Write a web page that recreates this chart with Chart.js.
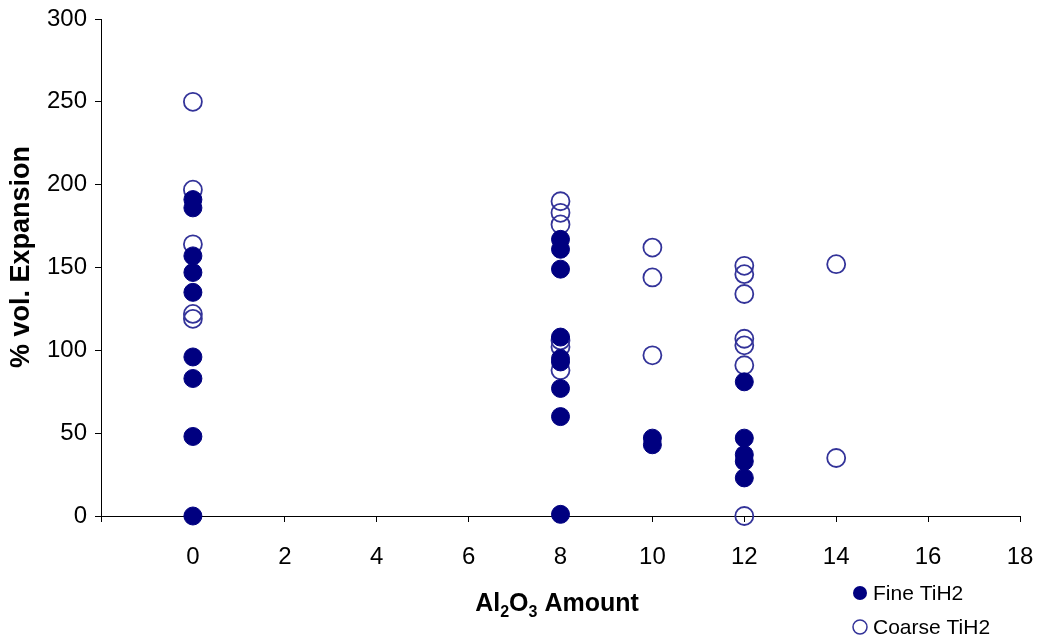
<!DOCTYPE html>
<html>
<head>
<meta charset="utf-8">
<title>% vol. Expansion vs Al2O3 Amount</title>
<script src="https://cdn.jsdelivr.net/npm/chart.js@4.4.1/dist/chart.umd.min.js"></script>
<style>
  html, body { margin: 0; padding: 0; background: #fff; }
  canvas { display: block; }
</style>
</head>
<body>
<canvas id="expansaoChart" width="1043" height="641"></canvas>
<script>
// Fine TiH2
const fineAmount = [0, 0, 0, 0, 0, 0, 0, 0, 0, 8, 8, 8, 8, 8, 8, 8, 8, 8, 10, 10, 12, 12, 12, 12, 12];
const fineExpansion = [191, 186, 157, 147, 135, 96, 83, 48, 0, 167, 161, 149, 108, 95, 93, 77, 60, 1, 47, 43, 81, 47, 37, 33, 23];

// Coarse TiH2
const coarseAmount = [0, 0, 0, 0, 0, 8, 8, 8, 8, 8, 8, 10, 10, 10, 12, 12, 12, 12, 12, 12, 12, 14, 14];
const coarseExpansion = [250, 197, 164, 122, 119, 190, 183, 176, 106, 102, 88, 162, 144, 97, 151, 146, 134, 107, 103, 91, 0, 152, 35];

const amountTicks = [-2, 0, 2, 4, 6, 8, 10, 12, 14, 16, 18];
const expansionTicks = [0, 50, 100, 150, 200, 250, 300];

const fonte = "'Liberation Sans', Arial, sans-serif";
const corFine = "#000080";
const corCoarse = "#333399";

function pontos(xs, ys) {
  return xs.map((x, i) => ({ x: x, y: ys[i] }));
}

// titulos dos eixos (x com subscritos) + legenda desenhada a mao
const extras = {
  id: "extras",
  afterDraw(chart) {
    const ctx = chart.ctx;
    ctx.save();
    ctx.fillStyle = "#000";
    ctx.textBaseline = "alphabetic";

    // Al2O3 Amount
    const partes = [
      { t: "Al", sub: false },
      { t: "2", sub: true },
      { t: "O", sub: false },
      { t: "3", sub: true },
      { t: " Amount", sub: false },
    ];
    const fNormal = "bold 25px " + fonte;
    const fSub = "bold 16px " + fonte;
    let total = 0;
    partes.forEach((p) => {
      ctx.font = p.sub ? fSub : fNormal;
      total += ctx.measureText(p.t).width;
    });
    let x = 557 - total / 2;
    const base = 611;
    partes.forEach((p) => {
      ctx.font = p.sub ? fSub : fNormal;
      ctx.fillText(p.t, x, p.sub ? base + 6 : base);
      x += ctx.measureText(p.t).width;
    });

    // % vol. Expansion (rotacionado)
    ctx.save();
    ctx.translate(29, 257);
    ctx.rotate(-Math.PI / 2);
    ctx.font = "bold 27px " + fonte;
    ctx.textAlign = "center";
    ctx.fillText("% vol. Expansion", 0, 0);
    ctx.restore();

    // legenda
    const itens = [
      { label: "Fine TiH2", y: 593, fill: true },
      { label: "Coarse TiH2", y: 627, fill: false },
    ];
    ctx.font = "21px " + fonte;
    ctx.textBaseline = "middle";
    itens.forEach((it) => {
      ctx.beginPath();
      ctx.arc(860, it.y, 7, 0, Math.PI * 2);
      if (it.fill) {
        ctx.fillStyle = corFine;
        ctx.fill();
      } else {
        ctx.strokeStyle = corCoarse;
        ctx.lineWidth = 1.5;
        ctx.stroke();
      }
      ctx.fillStyle = "#000";
      ctx.fillText(it.label, 873, it.y + 1);
    });
    ctx.restore();
  },
};

new Chart(document.getElementById("expansaoChart"), {
  type: "scatter",
  data: {
    datasets: [
      {
        label: "Fine TiH2",
        data: pontos(fineAmount, fineExpansion),
        pointRadius: 9,
        pointBackgroundColor: corFine,
        pointBorderColor: corFine,
        pointBorderWidth: 1,
        clip: false,
      },
      {
        label: "Coarse TiH2",
        data: pontos(coarseAmount, coarseExpansion),
        pointRadius: 9,
        pointBackgroundColor: "rgba(255,255,255,0)",
        pointBorderColor: corCoarse,
        pointBorderWidth: 1.8,
        clip: false,
      },
    ],
  },
  options: {
    responsive: false,
    animation: false,
    layout: {
      padding: { top: 19, right: 23, left: 0, bottom: 0 },
    },
    plugins: {
      legend: { display: false },
      tooltip: { enabled: false },
    },
    scales: {
      x: {
        type: "linear",
        min: -2,
        max: 18,
        afterBuildTicks: (scale) => {
          scale.ticks = amountTicks.map((v) => ({ value: v }));
        },
        afterFit: (scale) => {
          scale.height = 125;
          scale.paddingLeft = 0;
          scale.paddingRight = 0;
        },
        ticks: {
          color: "#000",
          font: { family: fonte, size: 24 },
          padding: 21,
          maxRotation: 0,
          callback: (v) => (v === -2 ? "" : v),
        },
        grid: {
          drawOnChartArea: false,
          color: "#000",
          tickLength: 6,
        },
        border: { color: "#000", width: 1 },
      },
      y: {
        min: 0,
        max: 300,
        afterBuildTicks: (scale) => {
          scale.ticks = expansionTicks.map((v) => ({ value: v }));
        },
        afterFit: (scale) => {
          scale.width = 101;
          scale.paddingTop = 0;
          scale.paddingBottom = 0;
        },
        ticks: {
          color: "#000",
          font: { family: fonte, size: 24 },
          padding: 8,
        },
        grid: {
          drawOnChartArea: false,
          color: "#000",
          tickLength: 6,
        },
        border: { color: "#000", width: 1 },
      },
    },
  },
  plugins: [extras],
});
</script>
</body>
</html>
